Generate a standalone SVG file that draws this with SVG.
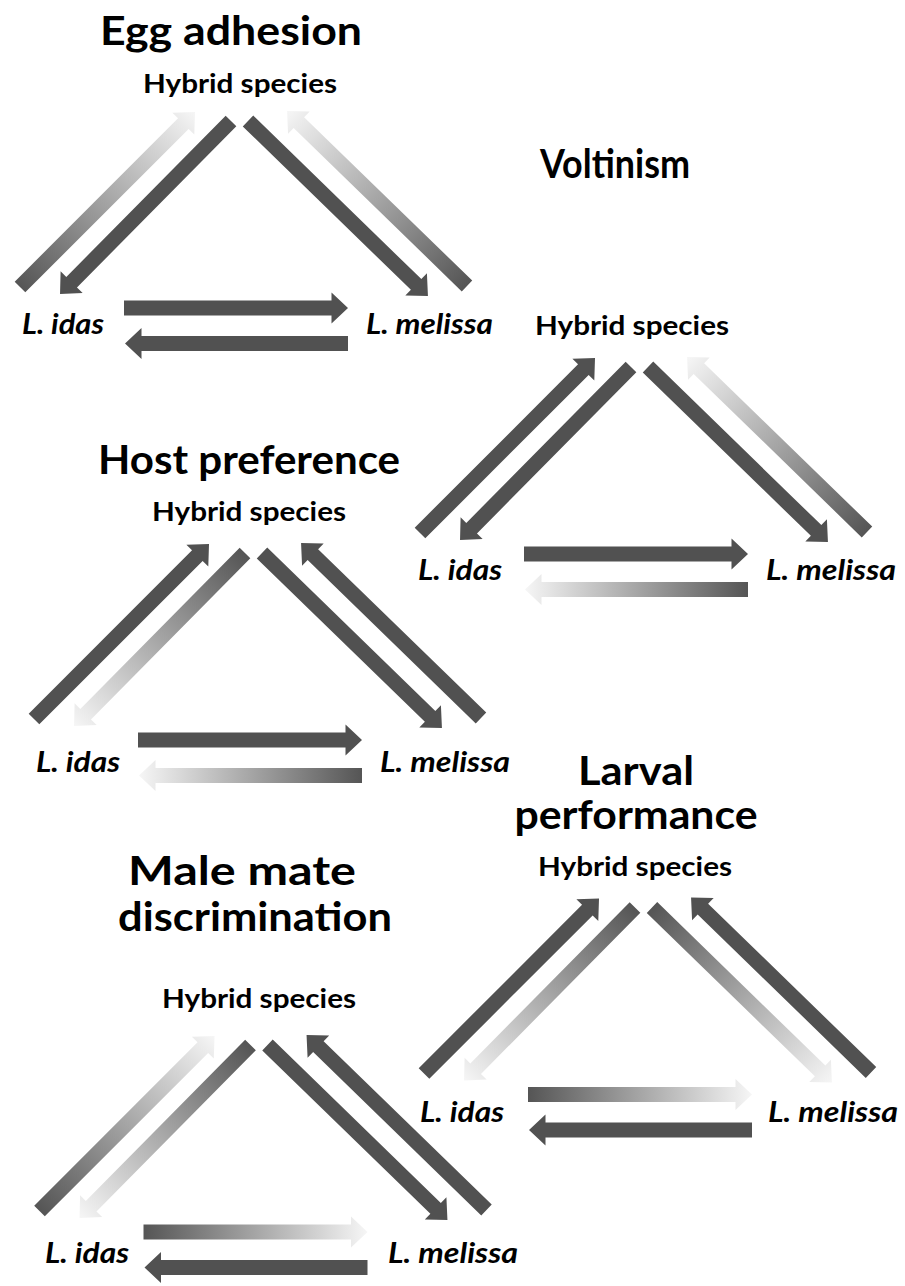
<svg xmlns="http://www.w3.org/2000/svg" width="905" height="1286" viewBox="0 0 905 1286">
  <defs>
    <!-- fading arrow: dark at the tail, almost white at the head -->
    <linearGradient id="fade" x1="0" y1="0" x2="1" y2="0">
      <stop offset="0" stop-color="#555555"/>
      <stop offset="1" stop-color="#f6f6f6"/>
    </linearGradient>
    <style>
      .title { font-family: Lato, "Liberation Sans", Arial, sans-serif; font-weight: bold; font-size: 40px; fill: #000; text-anchor: middle; }
      .hyb { font-family: Lato, "Liberation Sans", Arial, sans-serif; font-weight: bold; font-size: 26px; fill: #000; text-anchor: middle; }
      .sp { font-family: Lato, "Liberation Sans", Arial, sans-serif; font-weight: bold; font-style: italic; font-size: 28px; fill: #000; }
      .solid { fill: #515151; }
      .fade { fill: url(#fade); }
    </style>
  </defs>
  <rect width="905" height="1286" fill="#ffffff"/>

  <!-- Arrow template (same geometry in each panel):
       A: L. idas -> hybrid, B: hybrid -> L. idas, C: hybrid -> L. melissa,
       D: L. melissa -> hybrid, H1: L. idas -> L. melissa, H2: L. melissa -> L. idas -->

  <!-- Egg adhesion -->
  <g id="panel-egg">
    <g id="egg-title"><text class="title" x="231" y="45" textLength="262" lengthAdjust="spacingAndGlyphs">Egg adhesion</text></g>
    <g id="egg-hybrid"><text class="hyb" x="240" y="93" textLength="194" lengthAdjust="spacingAndGlyphs">Hybrid species</text></g>
    <g id="egg-idas"><text class="sp" x="22" y="334" textLength="82" lengthAdjust="spacingAndGlyphs">L. idas</text></g>
    <g id="egg-melissa"><text class="sp" x="366" y="334" textLength="127" lengthAdjust="spacingAndGlyphs">L. melissa</text></g>
    <g id="egg-connectors">
      <polygon class="fade" transform="translate(20,287) rotate(-45)" points="0,-7.5 231,-7.5 231,-15.5 247.5,0 231,15.5 231,7.5 0,7.5"/>
      <polygon class="solid" transform="translate(231,121) rotate(134.67)" points="0,-7.5 226.7,-7.5 226.7,-15.5 243.2,0 226.7,15.5 226.7,7.5 0,7.5"/>
      <polygon class="solid" transform="translate(248,121) rotate(44.2)" points="0,-7.5 234.5,-7.5 234.5,-15.5 251,0 234.5,15.5 234.5,7.5 0,7.5"/>
      <polygon class="fade" transform="translate(467,286) rotate(-135.8)" points="0,-7.5 234.5,-7.5 234.5,-15.5 251,0 234.5,15.5 234.5,7.5 0,7.5"/>
      <polygon class="solid" transform="translate(124,308)" points="0,-7.5 207.5,-7.5 207.5,-15.5 224,0 207.5,15.5 207.5,7.5 0,7.5"/>
      <polygon class="solid" transform="translate(348,343.5) rotate(180)" points="0,-7.5 206.5,-7.5 206.5,-15.5 223,0 206.5,15.5 206.5,7.5 0,7.5"/>
    </g>
  </g>

  <!-- Voltinism -->
  <g id="panel-voltinism">
    <g id="volt-title"><text class="title" x="615" y="178" textLength="150" lengthAdjust="spacingAndGlyphs">Voltinism</text></g>
    <g id="volt-hybrid"><text class="hyb" x="632" y="335" textLength="194" lengthAdjust="spacingAndGlyphs">Hybrid species</text></g>
    <g id="volt-idas"><text class="sp" x="418" y="580" textLength="84" lengthAdjust="spacingAndGlyphs">L. idas</text></g>
    <g id="volt-melissa"><text class="sp" x="766" y="580" textLength="130" lengthAdjust="spacingAndGlyphs">L. melissa</text></g>
    <g id="volt-connectors" transform="translate(400,246)">
      <polygon class="solid" transform="translate(20,287) rotate(-45)" points="0,-7.5 231,-7.5 231,-15.5 247.5,0 231,15.5 231,7.5 0,7.5"/>
      <polygon class="solid" transform="translate(231,121) rotate(134.67)" points="0,-7.5 226.7,-7.5 226.7,-15.5 243.2,0 226.7,15.5 226.7,7.5 0,7.5"/>
      <polygon class="solid" transform="translate(248,121) rotate(44.2)" points="0,-7.5 234.5,-7.5 234.5,-15.5 251,0 234.5,15.5 234.5,7.5 0,7.5"/>
      <polygon class="fade" transform="translate(467,286) rotate(-135.8)" points="0,-7.5 234.5,-7.5 234.5,-15.5 251,0 234.5,15.5 234.5,7.5 0,7.5"/>
      <polygon class="solid" transform="translate(124,308)" points="0,-7.5 207.5,-7.5 207.5,-15.5 224,0 207.5,15.5 207.5,7.5 0,7.5"/>
      <polygon class="fade" transform="translate(348,343.5) rotate(180)" points="0,-7.5 206.5,-7.5 206.5,-15.5 223,0 206.5,15.5 206.5,7.5 0,7.5"/>
    </g>
  </g>

  <!-- Host preference -->
  <g id="panel-host">
    <g id="host-title"><text class="title" x="249" y="474" textLength="302" lengthAdjust="spacingAndGlyphs">Host preference</text></g>
    <g id="host-hybrid"><text class="hyb" x="249" y="521" textLength="194" lengthAdjust="spacingAndGlyphs">Hybrid species</text></g>
    <g id="host-idas"><text class="sp" x="36" y="772" textLength="84" lengthAdjust="spacingAndGlyphs">L. idas</text></g>
    <g id="host-melissa"><text class="sp" x="380" y="772" textLength="130" lengthAdjust="spacingAndGlyphs">L. melissa</text></g>
    <g id="host-connectors" transform="translate(14,432)">
      <polygon class="solid" transform="translate(20,287) rotate(-45)" points="0,-7.5 231,-7.5 231,-15.5 247.5,0 231,15.5 231,7.5 0,7.5"/>
      <polygon class="fade" transform="translate(231,121) rotate(134.67)" points="0,-7.5 226.7,-7.5 226.7,-15.5 243.2,0 226.7,15.5 226.7,7.5 0,7.5"/>
      <polygon class="solid" transform="translate(248,121) rotate(44.2)" points="0,-7.5 234.5,-7.5 234.5,-15.5 251,0 234.5,15.5 234.5,7.5 0,7.5"/>
      <polygon class="solid" transform="translate(467,286) rotate(-135.8)" points="0,-7.5 234.5,-7.5 234.5,-15.5 251,0 234.5,15.5 234.5,7.5 0,7.5"/>
      <polygon class="solid" transform="translate(124,308)" points="0,-7.5 207.5,-7.5 207.5,-15.5 224,0 207.5,15.5 207.5,7.5 0,7.5"/>
      <polygon class="fade" transform="translate(348,343.5) rotate(180)" points="0,-7.5 206.5,-7.5 206.5,-15.5 223,0 206.5,15.5 206.5,7.5 0,7.5"/>
    </g>
  </g>

  <!-- Larval performance -->
  <g id="panel-larval">
    <g id="larval-title">
      <text class="title" x="636" y="785" textLength="116" lengthAdjust="spacingAndGlyphs">Larval</text>
      <text class="title" x="636" y="829" textLength="243" lengthAdjust="spacingAndGlyphs">performance</text>
    </g>
    <g id="larval-hybrid"><text class="hyb" x="635" y="876" textLength="194" lengthAdjust="spacingAndGlyphs">Hybrid species</text></g>
    <g id="larval-idas"><text class="sp" x="420" y="1122" textLength="84" lengthAdjust="spacingAndGlyphs">L. idas</text></g>
    <g id="larval-melissa"><text class="sp" x="768" y="1122" textLength="130" lengthAdjust="spacingAndGlyphs">L. melissa</text></g>
    <g id="larval-connectors" transform="translate(404,786.5)">
      <polygon class="solid" transform="translate(20,287) rotate(-45)" points="0,-7.5 231,-7.5 231,-15.5 247.5,0 231,15.5 231,7.5 0,7.5"/>
      <polygon class="fade" transform="translate(231,121) rotate(134.67)" points="0,-7.5 226.7,-7.5 226.7,-15.5 243.2,0 226.7,15.5 226.7,7.5 0,7.5"/>
      <polygon class="fade" transform="translate(248,121) rotate(44.2)" points="0,-7.5 234.5,-7.5 234.5,-15.5 251,0 234.5,15.5 234.5,7.5 0,7.5"/>
      <polygon class="solid" transform="translate(467,286) rotate(-135.8)" points="0,-7.5 234.5,-7.5 234.5,-15.5 251,0 234.5,15.5 234.5,7.5 0,7.5"/>
      <polygon class="fade" transform="translate(124,308)" points="0,-7.5 207.5,-7.5 207.5,-15.5 224,0 207.5,15.5 207.5,7.5 0,7.5"/>
      <polygon class="solid" transform="translate(348,343.5) rotate(180)" points="0,-7.5 206.5,-7.5 206.5,-15.5 223,0 206.5,15.5 206.5,7.5 0,7.5"/>
    </g>
  </g>

  <!-- Male mate discrimination -->
  <g id="panel-male">
    <g id="male-title">
      <text class="title" x="242" y="885" textLength="228" lengthAdjust="spacingAndGlyphs">Male mate</text>
      <text class="title" x="255" y="931" textLength="274" lengthAdjust="spacingAndGlyphs">discrimination</text>
    </g>
    <g id="male-hybrid"><text class="hyb" x="259" y="1008" textLength="194" lengthAdjust="spacingAndGlyphs">Hybrid species</text></g>
    <g id="male-idas"><text class="sp" x="45" y="1263" textLength="84" lengthAdjust="spacingAndGlyphs">L. idas</text></g>
    <g id="male-melissa"><text class="sp" x="388" y="1263" textLength="130" lengthAdjust="spacingAndGlyphs">L. melissa</text></g>
    <g id="male-connectors" transform="translate(19.5,924)">
      <polygon class="fade" transform="translate(20,287) rotate(-45)" points="0,-7.5 231,-7.5 231,-15.5 247.5,0 231,15.5 231,7.5 0,7.5"/>
      <polygon class="fade" transform="translate(231,121) rotate(134.67)" points="0,-7.5 226.7,-7.5 226.7,-15.5 243.2,0 226.7,15.5 226.7,7.5 0,7.5"/>
      <polygon class="solid" transform="translate(248,121) rotate(44.2)" points="0,-7.5 234.5,-7.5 234.5,-15.5 251,0 234.5,15.5 234.5,7.5 0,7.5"/>
      <polygon class="solid" transform="translate(467,286) rotate(-135.8)" points="0,-7.5 234.5,-7.5 234.5,-15.5 251,0 234.5,15.5 234.5,7.5 0,7.5"/>
      <polygon class="fade" transform="translate(124,308)" points="0,-7.5 207.5,-7.5 207.5,-15.5 224,0 207.5,15.5 207.5,7.5 0,7.5"/>
      <polygon class="solid" transform="translate(348,343.5) rotate(180)" points="0,-7.5 206.5,-7.5 206.5,-15.5 223,0 206.5,15.5 206.5,7.5 0,7.5"/>
    </g>
  </g>
</svg>
